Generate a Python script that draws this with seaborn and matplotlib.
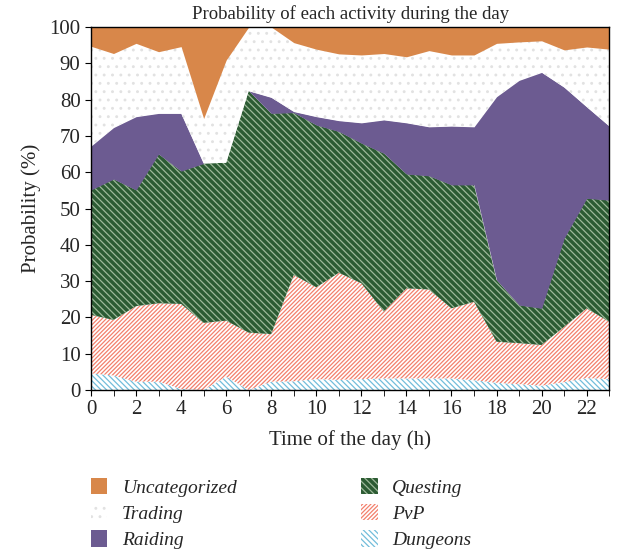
import numpy as np
import pandas as pd
import matplotlib
matplotlib.use('Agg')
import matplotlib.pyplot as plt
import seaborn as sns

sns.set_style('ticks')
plt.rcParams['font.family'] = ['Liberation Serif', 'DejaVu Serif']
plt.rcParams['hatch.linewidth'] = 0.9

hours = list(range(24))
dungeons = [4.6, 4.0, 2.3, 2.3, 0.3, 0.0, 3.7, 0.0, 2.3, 2.4, 3.0, 2.8,
            3.0, 3.2, 3.2, 3.2, 3.2, 2.7, 2.0, 1.6, 1.2, 2.2, 3.3, 3.0]
pvp = [16.1, 15.3, 20.8, 21.6, 23.4, 18.5, 15.4, 15.8, 13.1, 29.3, 25.3, 29.5,
       26.4, 18.4, 24.8, 24.5, 19.3, 21.6, 11.3, 11.3, 11.2, 15.2, 19.2, 15.8]
questing = [34.4, 38.8, 32.0, 41.1, 36.6, 43.9, 43.5, 66.6, 60.8, 44.7, 44.7, 38.9,
            38.6, 43.6, 31.5, 31.3, 34.0, 32.2, 17.0, 10.5, 10.1, 24.4, 30.3, 33.5]
raiding = [12.1, 14.2, 20.2, 11.2, 15.9, 0.0, 0.0, 0.0, 4.4, 0.3, 2.3, 3.0,
           5.6, 9.2, 14.1, 13.5, 16.2, 16.0, 50.5, 61.9, 65.0, 41.6, 25.2, 20.4]
trading = [27.5, 20.4, 20.2, 17.0, 18.4, 12.4, 28.3, 17.6, 19.4, 19.0, 18.6, 18.4,
           18.7, 18.3, 18.2, 21.0, 19.6, 19.8, 14.7, 10.6, 8.7, 10.3, 16.5, 21.2]
uncategorized = [5.3, 7.3, 4.5, 6.8, 5.4, 25.2, 9.1, 0.0, 0.0, 4.3, 6.1, 7.4,
                 7.7, 7.3, 8.2, 6.5, 7.7, 7.7, 4.5, 4.1, 3.8, 6.3, 5.5, 6.1]

df = pd.DataFrame({'Dungeons': dungeons, 'PvP': pvp, 'Questing': questing,
                   'Raiding': raiding, 'Trading': trading,
                   'Uncategorized': uncategorized}, index=hours)

# (face, hatch colour, hatch)
styles = {
    'Dungeons': ('white', '#72bddb', '\\\\\\\\\\\\'),
    'PvP': ('white', '#f3806c', '////////'),
    'Questing': ('#2c5b33', '#9db99a', '\\\\\\\\\\'),
    'Raiding': ('#6c5b91', '#6c5b91', None),
    'Trading': ('white', '#e2e2e2', '..'),
    'Uncategorized': ('#d8874a', '#d8874a', None),
}

fig = plt.figure(figsize=(6.21, 5.57), dpi=100)
ax = fig.add_axes([0.1465, 0.2998, 0.8345, 0.6517])

bottom = np.zeros(len(df))
handles = {}
for col in df.columns:
    face, hc, hatch = styles[col]
    top = bottom + df[col].values
    h = ax.fill_between(df.index, bottom, top, facecolor=face, edgecolor=hc,
                        hatch=hatch, linewidth=0, label=col)
    handles[col] = h
    bottom = top

ax.set_xlim(0, 23)
ax.set_ylim(0, 100)
ax.set_xticks(range(0, 24, 2))
ax.set_xticks(range(24), minor=True)
ax.set_yticks(range(0, 101, 10))
ax.tick_params(axis='both', which='both', direction='out', labelsize=15, color='black')
ax.tick_params(which='major', length=4)
ax.tick_params(which='minor', length=4)
for s in ax.spines.values():
    s.set_color('black')
    s.set_linewidth(1.0)

ax.set_title('Probability of each activity during the day', fontsize=13.5, pad=6)
ax.set_xlabel('Time of the day (h)', fontsize=15, labelpad=8)
ax.set_ylabel('Probability (%)', fontsize=15, labelpad=6)

order = ['Uncategorized', 'Trading', 'Raiding', 'Questing', 'PvP', 'Dungeons']
leg = fig.legend([handles[k] for k in order], order, ncol=2, frameon=False,
                 loc='upper left', bbox_to_anchor=(0.118, 0.173), prop={'style': 'italic', 'size': 14},
                 handlelength=0.85, handleheight=0.9, columnspacing=6.4,
                 labelspacing=0.38, handletextpad=0.75)

fig.savefig('out.png', dpi=100)
